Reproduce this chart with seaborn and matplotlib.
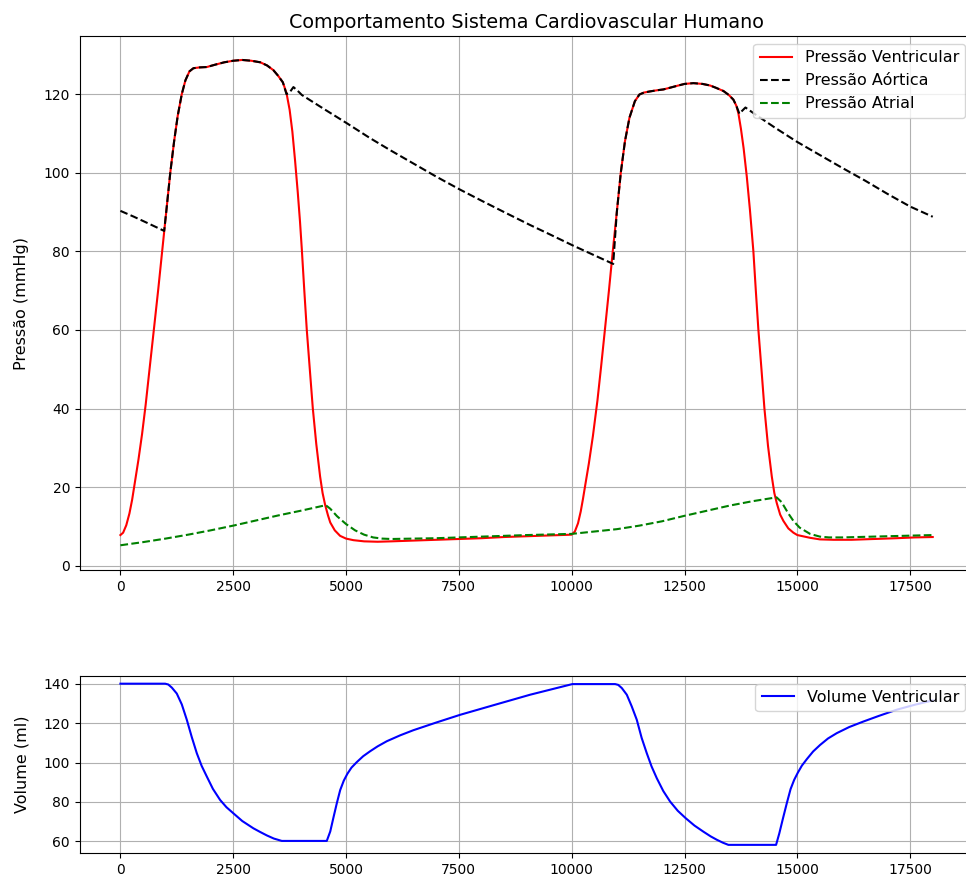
import matplotlib
matplotlib.use("Agg")
import matplotlib.pyplot as plt
import seaborn as sns
import numpy as np

# ---------------- data ----------------
# Ventricular pressure (mmHg)
t_vent = [0, 60, 130, 200, 260, 304, 400, 480, 560, 650, 750, 840, 925, 1015, 1105,
          1190, 1270, 1360, 1440, 1530, 1618, 1750, 1914, 2100, 2300, 2500, 2700,
          2900, 3100, 3250, 3390, 3500, 3600, 3680, 3750, 3810, 3871, 3930, 3980,
          4020, 4075, 4130, 4200, 4263, 4340, 4425, 4480, 4536, 4600, 4650, 4750,
          4868, 5000, 5163, 5400, 5700, 6000, 6500, 7000, 7500, 8000, 8500, 9000,
          9500, 10000,
          10070, 10140, 10200, 10250, 10300, 10380, 10470, 10570, 10650, 10740,
          10825, 10910, 11000, 11088, 11180, 11280, 11400, 11500, 11600, 11737,
          11900, 12032, 12200, 12329, 12500, 12697, 12900, 13067, 13200, 13362,
          13480, 13583, 13650, 13694, 13750, 13810, 13880, 13950, 14026, 14080,
          14137, 14205, 14270, 14350, 14434, 14490, 14545, 14620, 14691, 14800,
          14913, 15000, 15282, 15500, 15800, 16200, 16700, 17200, 17600, 18000]
p_vent = [7.8, 8.4, 10.3, 13.3, 16.8, 20.0, 27.0, 33.5, 41.0, 50.5, 61.0, 70.5, 80.0,
          90.0, 100.0, 108.0, 114.5, 120.0, 123.5, 125.8, 126.6, 126.8, 126.9, 127.5,
          128.1, 128.5, 128.7, 128.5, 128.1, 127.3, 126.1, 124.6, 123.0, 120.3, 116.0,
          110.5, 103.0, 95.0, 87.5, 80.5, 70.0, 60.0, 49.5, 40.1, 31.0, 22.7, 18.5,
          15.5, 12.8, 11.0, 9.0, 7.6, 6.9, 6.5, 6.2, 6.1, 6.2, 6.4, 6.6, 6.8, 7.0,
          7.3, 7.5, 7.7, 7.9,
          8.7, 10.8, 13.8, 17.0, 20.5, 26.0, 33.0, 42.0, 50.5, 60.5, 70.0, 80.0, 90.0,
          100.0, 108.0, 114.0, 118.2, 119.9, 120.4, 120.7, 121.0, 121.2, 121.7, 122.1,
          122.6, 122.8, 122.6, 122.2, 121.6, 120.8, 119.8, 118.6, 117.0, 115.1, 111.2,
          106.2, 99.0, 90.5, 80.0, 70.0, 60.0, 50.0, 40.1, 30.5, 22.7, 18.5, 15.9, 13.0,
          11.4, 9.5, 8.4, 7.8, 7.1, 6.7, 6.6, 6.6, 6.8, 7.0, 7.2, 7.3]

# Aortic pressure (mmHg)
t_aort = [0, 300, 600, 970, 1015, 1105, 1190, 1270, 1360, 1440, 1530, 1618, 1750,
          1914, 2100, 2300, 2500, 2700, 2900, 3100, 3250, 3390, 3500, 3600, 3680,
          3760, 3834, 3950, 4019, 4500, 5017, 5533, 6000, 6500, 7000, 7527, 8000,
          8500, 9078, 9500, 10024, 10500, 10920, 11000, 11088, 11180, 11280, 11400,
          11500, 11600, 11737, 11900, 12032, 12200, 12329, 12500, 12697, 12900,
          13067, 13200, 13362, 13480, 13583, 13650, 13716, 13780, 13850, 13950,
          14100, 14500, 14988, 15500, 16000, 16500, 17000, 17499, 18000]
p_aort = [90.3, 88.8, 87.2, 85.2, 90.0, 100.0, 108.0, 114.5, 120.0, 123.5, 125.8,
          126.6, 126.8, 126.9, 127.5, 128.1, 128.5, 128.7, 128.5, 128.1, 127.3, 126.1,
          124.6, 123.0, 120.0, 120.6, 121.8, 120.6, 119.8, 116.3, 112.6, 108.8, 105.6,
          102.3, 99.0, 95.7, 92.9, 90.0, 86.7, 84.4, 81.5, 79.0, 76.8, 90.0, 100.0,
          108.0, 114.0, 118.2, 119.9, 120.4, 120.7, 121.0, 121.2, 121.7, 122.1, 122.6,
          122.8, 122.6, 122.2, 121.6, 120.8, 119.8, 118.6, 117.0, 115.0, 115.8, 116.6,
          115.8, 114.6, 111.5, 107.9, 104.5, 101.2, 98.0, 94.6, 91.4, 88.8]

# Atrial pressure (mmHg)
t_atr = [0, 500, 1000, 1500, 2000, 2500, 3000, 3500, 4000, 4550, 4650, 4800, 5000,
         5200, 5400, 5600, 5800, 6000, 7000, 8000, 9000, 10000, 10500, 11000, 11500,
         12000, 12500, 13000, 13500, 14000, 14540, 14650, 14800, 14913, 15050, 15282,
         15500, 15700, 16000, 17000, 18000]
p_atr = [5.2, 6.0, 6.9, 7.9, 9.0, 10.2, 11.5, 12.8, 14.0, 15.4, 14.5, 12.6, 10.6,
         9.0, 7.9, 7.2, 6.9, 6.8, 7.0, 7.4, 7.8, 8.1, 8.7, 9.3, 10.2, 11.3, 12.7,
         14.0, 15.3, 16.4, 17.4, 16.2, 13.3, 11.4, 9.7, 8.1, 7.4, 7.2, 7.2, 7.5, 7.8]

# Ventricular volume (ml)
t_vol = [0, 991, 1060, 1140, 1249, 1360, 1471, 1580, 1693, 1800, 1914, 2050, 2209,
         2350, 2504, 2700, 2947, 3100, 3244, 3400, 3576, 4573, 4650, 4720, 4795,
         4870, 4950, 5030, 5120, 5238, 5380, 5533, 5700, 5903, 6200, 6493, 7000,
         7527, 8300, 9078, 10015,
         10962, 11030, 11110, 11221, 11330, 11442, 11550, 11664, 11770, 11886,
         12030, 12180, 12350, 12528, 12720, 12918, 13080, 13215, 13350, 13472,
         14529, 14600, 14680, 14766, 14850, 14930, 15010, 15100, 15210, 15350,
         15504, 15680, 15874, 16150, 16464, 16800, 17203, 17600, 18000]
v_vol = [140.0, 140.0, 139.6, 138.0, 135.0, 129.5, 121.7, 113.0, 104.7, 98.3, 92.9,
         86.6, 81.0, 77.3, 74.2, 70.3, 66.6, 64.7, 63.0, 61.4, 60.2, 60.2, 65.0, 72.0,
         79.3, 86.0, 90.8, 94.3, 97.4, 100.2, 103.2, 105.7, 108.2, 110.8, 113.8,
         116.4, 120.3, 124.2, 129.3, 134.4, 139.8,
         139.8, 139.4, 137.8, 134.4, 128.5, 121.7, 112.5, 104.7, 98.0, 92.0,
         85.5, 80.2, 75.5, 71.7, 68.0, 64.9, 62.5, 60.8, 59.3, 58.2,
         58.2, 64.0, 71.5, 79.3, 86.5, 91.2, 94.8, 98.4, 101.7, 105.6,
         108.9, 112.2, 114.9, 118.0, 120.8, 123.6, 126.8, 129.3, 131.5]

title = "Comportamento Sistema Cardiovascular Humano"

# ---------------- figure ----------------
plt.rcParams["font.size"] = 11.5
plt.rcParams["xtick.labelsize"] = 10
plt.rcParams["ytick.labelsize"] = 10

fig = plt.figure(figsize=(9.66, 8.82), dpi=100)
ax1 = fig.add_axes([0.0826, 0.3537, 0.925, 0.9592 - 0.3537])
ax2 = fig.add_axes([0.0826, 0.0325, 0.925, 0.2340 - 0.0325])

sns.lineplot(x=t_vent, y=p_vent, ax=ax1, color="red", linewidth=1.5,
             label="Pressão Ventricular", estimator=None)
sns.lineplot(x=t_aort, y=p_aort, ax=ax1, color="black", linewidth=1.5,
             linestyle="--", label="Pressão Aórtica", estimator=None)
sns.lineplot(x=t_atr, y=p_atr, ax=ax1, color="green", linewidth=1.5,
             linestyle="--", label="Pressão Atrial", estimator=None)
ax1.set_title(title)
ax1.set_ylabel("Pressão (mmHg)", labelpad=10.5)
ax1.set_xlabel("")
ax1.grid(True)
ax1.legend(loc="upper right")

sns.lineplot(x=t_vol, y=v_vol, ax=ax2, color="blue", linewidth=1.5,
             label="Volume Ventricular", estimator=None)
ax2.set_ylabel("Volume (ml)", labelpad=10.5)
ax2.set_xlabel("")
ax2.grid(True)
ax2.legend(loc="upper right")

for ax in (ax1, ax2):
    ax.set_xlim(-900, 18900)
ax1.set_ylim(-1.1, 134.8)
ax2.set_ylim(53.9, 144.1)
ax1.set_yticks([0, 20, 40, 60, 80, 100, 120])
ax2.set_yticks([60, 80, 100, 120, 140])

fig.savefig("out.png", dpi=100)
